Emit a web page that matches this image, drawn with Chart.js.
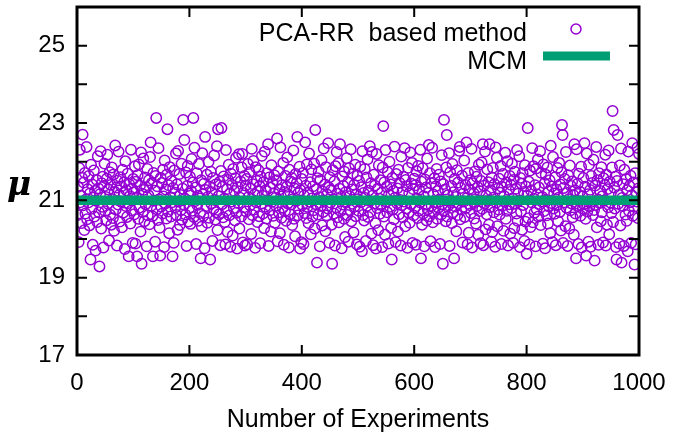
<!DOCTYPE html>
<html>
<head>
<meta charset="utf-8">
<script src="https://cdn.jsdelivr.net/npm/chart.js@4.4.1/dist/chart.umd.min.js"></script>
<style>
  html, body { margin: 0; padding: 0; background: #fff; }
  #wrap { width: 673px; height: 440px; }
</style>
</head>
<body>
<div id="wrap"><canvas id="chart" width="673" height="440"></canvas></div>
<script>
// ── Data ──────────────────────────────────────────────────────────────
// μ for each experiment, experiment n = index + 1 (read off the picture)
const mu = [
  20.62, 21.35, 19.92, 21.84, 22.31, 20.95, 21.12, 20.41, 21.58, 22.70,
  20.87, 21.46, 20.23, 21.71, 20.66, 21.02, 22.38, 20.51, 21.29, 20.94,
  21.63, 20.35, 21.18, 19.47, 21.92, 20.78, 21.41, 19.85, 21.07, 21.77,
  20.58, 21.24, 19.70, 20.99, 21.53, 20.44, 22.14, 21.31, 20.69, 19.29,
  21.16, 22.27, 20.27, 21.44, 20.83, 21.61, 19.78, 21.37, 21.95, 20.72,
  21.09, 20.48, 21.56, 22.18, 20.91, 21.28, 19.96, 21.73, 20.63, 21.40,
  20.37, 21.85, 21.03, 20.54, 21.67, 20.21, 21.22, 22.42, 20.76, 21.33,
  19.83, 21.51, 20.89, 22.26, 21.14, 20.45, 21.60, 20.97, 21.36, 20.30,
  21.79, 20.68, 21.19, 21.47, 19.74, 22.01, 20.85, 21.26, 20.57, 21.69,
  20.93, 19.55, 21.42, 21.11, 20.40, 22.31, 20.74, 21.30, 19.90, 21.55,
  21.21, 20.64, 21.88, 19.88, 21.48, 21.06, 19.55, 21.65, 20.52, 21.93,
  20.81, 21.38, 20.19, 22.24, 19.36, 21.17, 20.70, 22.08, 21.27, 20.46,
  21.59, 20.90, 21.34, 19.81, 21.81, 20.61, 21.13, 21.52, 20.38, 22.12,
  22.50, 20.86, 21.44, 20.59, 19.55, 21.71, 20.99, 21.25, 19.93, 21.63,
  23.13, 20.77, 21.36, 20.49, 22.35, 21.02, 20.29, 19.57, 21.58, 20.84,
  21.45, 20.66, 21.79, 21.10, 19.79, 22.03, 20.92, 21.28, 20.53, 21.67,
  22.84, 20.71, 21.39, 20.15, 21.86, 21.08, 20.58, 21.50, 20.95, 19.55,
  21.32, 19.90, 21.77, 21.20, 20.82, 22.21, 20.62, 21.41, 20.24, 22.28,
  20.97, 21.68, 20.36, 21.14, 20.75, 21.95, 20.50, 21.30, 23.08, 20.89,
  22.56, 21.04, 20.63, 21.72, 19.82, 21.37, 21.89, 20.45, 21.18, 20.80,
  21.61, 20.39, 21.24, 22.07, 20.73, 21.46, 23.13, 20.57, 22.36, 20.98,
  21.33, 19.87, 21.70, 20.88, 21.12, 20.47, 21.94, 21.05, 20.67, 19.50,
  21.52, 20.32, 22.22, 21.15, 20.60, 21.43, 19.76, 22.64, 21.27, 20.85,
  21.66, 20.42, 21.09, 21.99, 20.55, 21.36, 19.47, 21.74, 20.92, 21.21,
  19.95, 21.58, 20.79, 22.16, 21.01, 20.50, 21.41, 20.69, 22.40, 20.23,
  22.84, 21.11, 20.64, 21.48, 19.84, 21.76, 22.87, 20.90, 21.35, 20.56,
  21.62, 21.04, 20.44, 19.86, 22.30, 20.73, 21.29, 20.18, 21.53, 21.92,
  20.61, 21.17, 19.80, 21.69, 20.97, 21.40, 20.09, 21.81, 20.80, 21.24,
  20.48, 21.57, 22.10, 20.68, 19.75, 21.34, 20.93, 22.19, 20.27, 21.07,
  21.49, 20.58, 21.85, 22.20, 19.91, 21.19, 20.82, 21.63, 19.83, 21.38,
  20.71, 21.55, 19.86, 21.94, 21.08, 20.51, 21.73, 20.87, 21.30, 20.13,
  22.33, 20.62, 21.42, 22.02, 20.76, 21.15, 19.77, 21.86, 20.95, 21.50,
  20.44, 21.23, 21.78, 20.59, 21.37, 19.89, 21.61, 20.91, 22.15, 21.12,
  20.66, 21.47, 20.28, 22.26, 20.83, 21.26, 20.53, 21.70, 21.00, 22.45,
  19.82, 21.59, 20.74, 21.33, 20.19, 21.91, 20.96, 21.44, 20.60, 21.18,
  21.65, 20.42, 21.06, 20.86, 21.52, 22.60, 19.94, 21.75, 20.69, 21.28,
  20.15, 22.37, 21.10, 20.55, 21.40, 20.81, 21.97, 19.85, 21.22, 20.72,
  21.63, 20.47, 21.35, 22.11, 20.92, 21.14, 19.78, 21.79, 20.64, 21.49,
  20.89, 21.58, 20.36, 21.03, 22.29, 20.52, 21.31, 20.07, 21.68, 20.98,
  21.45, 22.64, 20.61, 21.19, 20.78, 21.87, 19.75, 21.26, 19.92, 21.55,
  20.88, 21.71, 19.87, 21.12, 20.67, 22.50, 21.38, 20.54, 21.93, 20.83,
  21.20, 20.41, 22.21, 20.96, 21.47, 20.12, 21.80, 21.05, 20.58, 21.36,
  20.74, 21.95, 20.27, 22.82, 20.90, 21.29, 19.39, 21.57, 20.63, 21.74,
  21.08, 19.81, 21.52, 20.85, 22.04, 20.35, 21.23, 20.70, 22.34, 20.99,
  21.41, 20.20, 21.86, 20.61, 21.15, 20.79, 22.48, 21.33, 19.90, 21.60,
  20.94, 21.27, 20.37, 19.36, 21.78, 21.02, 20.66, 21.49, 19.83, 21.88,
  20.81, 22.25, 20.56, 21.17, 21.96, 20.43, 21.30, 22.45, 20.72, 21.09,
  19.76, 21.62, 20.89, 21.37, 20.52, 21.74, 20.05, 21.21, 20.97, 22.09,
  20.62, 21.46, 19.93, 21.83, 21.11, 20.75, 22.32, 20.46, 21.28, 20.91,
  21.69, 20.17, 21.40, 20.84, 21.92, 20.59, 21.16, 19.86, 21.64, 21.03,
  20.73, 21.50, 19.80, 21.87, 20.95, 21.34, 19.68, 22.27, 20.62, 21.19,
  20.48, 21.81, 21.06, 19.95, 21.59, 20.86, 22.06, 20.57, 21.25, 20.99,
  22.40, 20.70, 21.44, 20.14, 22.25, 21.12, 19.84, 21.66, 20.92, 21.38,
  20.41, 19.75, 22.20, 20.80, 21.30, 20.23, 21.91, 21.04, 20.65, 21.52,
  20.88, 21.20, 19.79, 21.85, 22.92, 20.58, 21.47, 20.11, 22.30, 20.97,
  21.35, 20.69, 21.73, 19.88, 21.14, 22.00, 20.83, 21.41, 20.29, 19.47,
  21.58, 20.76, 21.24, 20.51, 22.39, 21.07, 19.92, 21.68, 20.93, 21.31,
  20.19, 21.79, 20.64, 21.45, 21.01, 19.83, 22.13, 20.87, 21.22, 20.56,
  21.61, 20.97, 22.35, 20.33, 21.53, 20.79, 21.36, 19.77, 21.84, 20.68,
  21.18, 20.42, 22.24, 20.90, 21.43, 21.97, 19.90, 21.29, 20.61, 21.56,
  20.82, 21.39, 19.85, 21.76, 21.05, 20.54, 21.89, 20.73, 21.27, 20.95,
  22.31, 19.50, 21.48, 20.37, 21.83, 20.66, 21.11, 19.81, 21.54, 20.89,
  21.33, 20.48, 22.08, 20.77, 21.19, 22.43, 20.59, 21.70, 19.94, 21.44,
  20.86, 22.36, 20.43, 21.15, 20.70, 21.57, 19.79, 21.36, 20.94, 21.81,
  20.52, 21.24, 20.81, 21.66, 21.02, 19.87, 21.49, 20.63, 22.17, 20.90,
  19.36, 21.42, 23.08, 20.74, 21.28, 20.46, 21.85, 22.69, 20.58, 21.13,
  20.87, 22.22, 19.82, 21.73, 20.99, 21.37, 20.41, 21.94, 20.69, 21.21,
  19.50, 21.55, 20.84, 21.09, 20.20, 21.78, 20.62, 21.46, 20.93, 22.28,
  22.38, 20.51, 21.32, 20.76, 21.64, 19.91, 21.17, 20.97, 22.03, 20.57,
  21.40, 20.80, 22.50, 21.06, 19.86, 21.71, 20.16, 21.29, 20.88, 21.52,
  20.67, 22.33, 19.78, 21.44, 20.96, 21.18, 20.53, 21.75, 21.03, 20.40,
  21.61, 20.85, 21.34, 20.11, 21.92, 20.72, 21.23, 19.89, 21.50, 21.98,
  20.78, 22.45, 19.84, 21.38, 20.91, 22.26, 20.25, 21.12, 20.64, 21.80,
  20.99, 21.47, 20.37, 22.45, 20.82, 21.26, 19.93, 21.59, 20.18, 21.84,
  21.07, 20.69, 21.42, 19.80, 22.37, 20.94, 22.10, 20.33, 21.31, 20.76,
  21.56, 20.63, 21.20, 21.89, 19.87, 21.35, 20.86, 21.68, 20.21, 21.11,
  20.97, 22.23, 20.52, 21.46, 20.73, 22.01, 19.83, 21.27, 20.90, 21.63,
  20.14, 21.40, 20.80, 21.95, 21.05, 19.90, 21.53, 20.28, 21.74, 20.92,
  21.30, 20.66, 22.30, 20.47, 21.17, 20.99, 22.14, 19.79, 21.58, 20.71,
  21.43, 20.24, 21.70, 20.88, 21.22, 19.95, 21.91, 20.45, 21.36, 19.62,
  21.12, 22.87, 20.54, 21.48, 19.86, 21.77, 20.31, 21.25, 20.95, 22.35,
  20.43, 21.88, 21.04, 20.68, 21.39, 19.81, 21.82, 20.77, 21.15, 22.06,
  20.58, 21.33, 20.89, 22.27, 20.36, 21.71, 20.97, 21.09, 19.88, 21.93,
  20.72, 21.44, 19.76, 21.66, 21.01, 20.61, 21.85, 20.40, 21.23, 20.84,
  21.52, 20.15, 22.41, 20.93, 21.36, 19.92, 22.12, 20.79, 21.18, 20.65,
  21.60, 19.84, 21.28, 20.87, 21.84, 20.46, 21.07, 21.97, 20.70, 21.41,
  20.22, 21.73, 22.95, 22.69, 19.90, 21.32, 20.95, 21.55, 20.33, 22.25,
  20.81, 21.19, 19.82, 21.65, 21.03, 20.27, 21.90, 20.74, 21.37, 20.92,
  21.49, 20.56, 21.14, 20.11, 22.45, 21.26, 20.66, 19.50, 22.32, 20.86,
  21.43, 19.87, 21.69, 20.98, 21.22, 20.60, 21.87, 19.78, 21.10, 20.78,
  21.58, 20.90, 22.48, 21.35, 20.52, 19.57, 22.21, 20.71, 21.16, 19.93,
  21.92, 20.84, 21.27, 19.80, 21.63, 20.96, 21.45, 20.62, 22.05, 20.75,
  19.44, 21.38, 20.88, 22.38, 20.30, 21.52, 21.02, 19.85, 21.70, 20.93,
  21.24, 20.46, 21.86, 20.69, 21.11, 19.91, 21.57, 20.99, 21.40, 22.18,
  19.83, 21.66, 20.37, 21.29, 20.82, 22.29, 20.12, 21.48, 20.94, 21.19,
  20.67, 21.85, 23.31, 20.44, 22.82, 21.33, 20.79, 21.61, 19.79, 19.47,
  21.50, 22.69, 20.91, 21.14, 19.88, 21.90, 20.35, 22.34, 19.39, 21.06,
  20.85, 21.42, 19.82, 21.79, 21.00, 20.63, 21.55, 20.47, 21.26, 19.68,
  22.26, 20.73, 21.37, 20.95, 21.64, 19.90, 21.13, 22.48, 20.60, 21.46,
  20.83, 19.34, 21.70, 19.86, 21.21, 20.97, 22.36, 20.54, 21.31, 22.20
];
const mcmX   = [0, 1000];       // MCM reference line end points
const mcmMu  = [21.0, 21.0];
const xTickLabels = [0, 200, 400, 600, 800, 1000];
const yTickLabels = [17, 19, 21, 23, 25];

const PURPLE = '#9400d3';
const GREEN  = '#009e73';
const FONT   = '"Liberation Sans", Arial, sans-serif';

// ── Frame, inward ticks, legend, μ label ──────────────────────────────
const framePlugin = {
    id: 'frame',
    afterDatasetsDraw(chart) {
        const { ctx, chartArea: a, scales: { x, y } } = chart;
        ctx.save();
        ctx.strokeStyle = '#000';
        ctx.lineWidth = 2;
        ctx.beginPath();
        x.ticks.forEach(t => {
            const px = x.getPixelForValue(t.value);
            ctx.moveTo(px, a.bottom); ctx.lineTo(px, a.bottom - 10);
            ctx.moveTo(px, a.top);    ctx.lineTo(px, a.top + 10);
        });
        y.ticks.forEach(t => {
            const py = y.getPixelForValue(t.value);
            ctx.moveTo(a.left, py);  ctx.lineTo(a.left + 10, py);
            ctx.moveTo(a.right, py); ctx.lineTo(a.right - 10, py);
        });
        ctx.stroke();
        ctx.lineWidth = 3;
        ctx.strokeRect(a.left, a.top, a.width, a.height);

        // legend (gnuplot style: text right-aligned, sample on the right)
        ctx.fillStyle = '#000';
        ctx.font = '25px ' + FONT;
        ctx.textAlign = 'right';
        ctx.textBaseline = 'middle';
        ctx.fillText('PCA-RR  based method', 527, 34);
        ctx.fillText('MCM', 527, 62);
        ctx.strokeStyle = PURPLE;
        ctx.lineWidth = 1.5;
        ctx.beginPath();
        ctx.arc(576, 29, 5, 0, Math.PI * 2);
        ctx.stroke();
        ctx.strokeStyle = GREEN;
        ctx.lineWidth = 9;
        ctx.beginPath();
        ctx.moveTo(543, 56); ctx.lineTo(610, 56);
        ctx.stroke();

        // y axis symbol
        ctx.font = 'bold italic 33px "DejaVu Serif", serif';
        ctx.textAlign = 'center';
        ctx.fillText('\u03bc', 19, 186);
        ctx.restore();
    }
};

// ── Chart ─────────────────────────────────────────────────────────────
new Chart(document.getElementById('chart'), {
    type: 'scatter',
    data: {
        datasets: [
            {
                type: 'line',
                label: 'MCM',
                data: mcmX.map((x, i) => ({ x, y: mcmMu[i] })),
                borderColor: GREEN,
                borderWidth: 9.5,
                pointRadius: 0,
                fill: false,
                clip: 0,
                order: 0
            },
            {
                label: 'PCA-RR  based method',
                data: mu.map((v, i) => ({ x: i + 1, y: v })),
                borderColor: PURPLE,
                backgroundColor: 'rgba(0,0,0,0)',
                borderWidth: 1.5,
                pointRadius: 5.2,
                pointStyle: 'circle',
                clip: 0,
                order: 1
            }
        ]
    },
    options: {
        responsive: false,
        animation: false,
        devicePixelRatio: 1,
        layout: { padding: { left: 0, right: 34, top: 7, bottom: 0 } },
        plugins: { legend: { display: false }, tooltip: { enabled: false } },
        scales: {
            x: {
                type: 'linear',
                min: 0, max: 1000,
                afterFit: s => { s.height = 85; s.paddingLeft = 0; s.paddingRight = 0; },
                afterBuildTicks: s => { s.ticks = xTickLabels.map(v => ({ value: v })); },
                grid: { display: false, drawTicks: false },
                border: { display: false },
                ticks: {
                    color: '#000', padding: 14, maxRotation: 0,
                    font: { size: 24, family: FONT },
                    callback: v => String(v)
                },
                title: {
                    display: true,
                    text: 'Number of Experiments',
                    color: '#000',
                    font: { size: 25, family: FONT },
                    padding: { top: 0, bottom: 5 }
                }
            },
            y: {
                min: 17, max: 26,
                afterFit: s => { s.width = 77; s.paddingTop = 0; s.paddingBottom = 0; },
                grid: { display: false, drawTicks: false },
                border: { display: false },
                ticks: {
                    stepSize: 1,
                    color: '#000',
                    padding: 12,
                    font: { size: 24, family: FONT },
                    callback: v => yTickLabels.includes(v) ? String(v) : ''
                }
            }
        }
    },
    plugins: [framePlugin]
});
</script>
</body>
</html>
